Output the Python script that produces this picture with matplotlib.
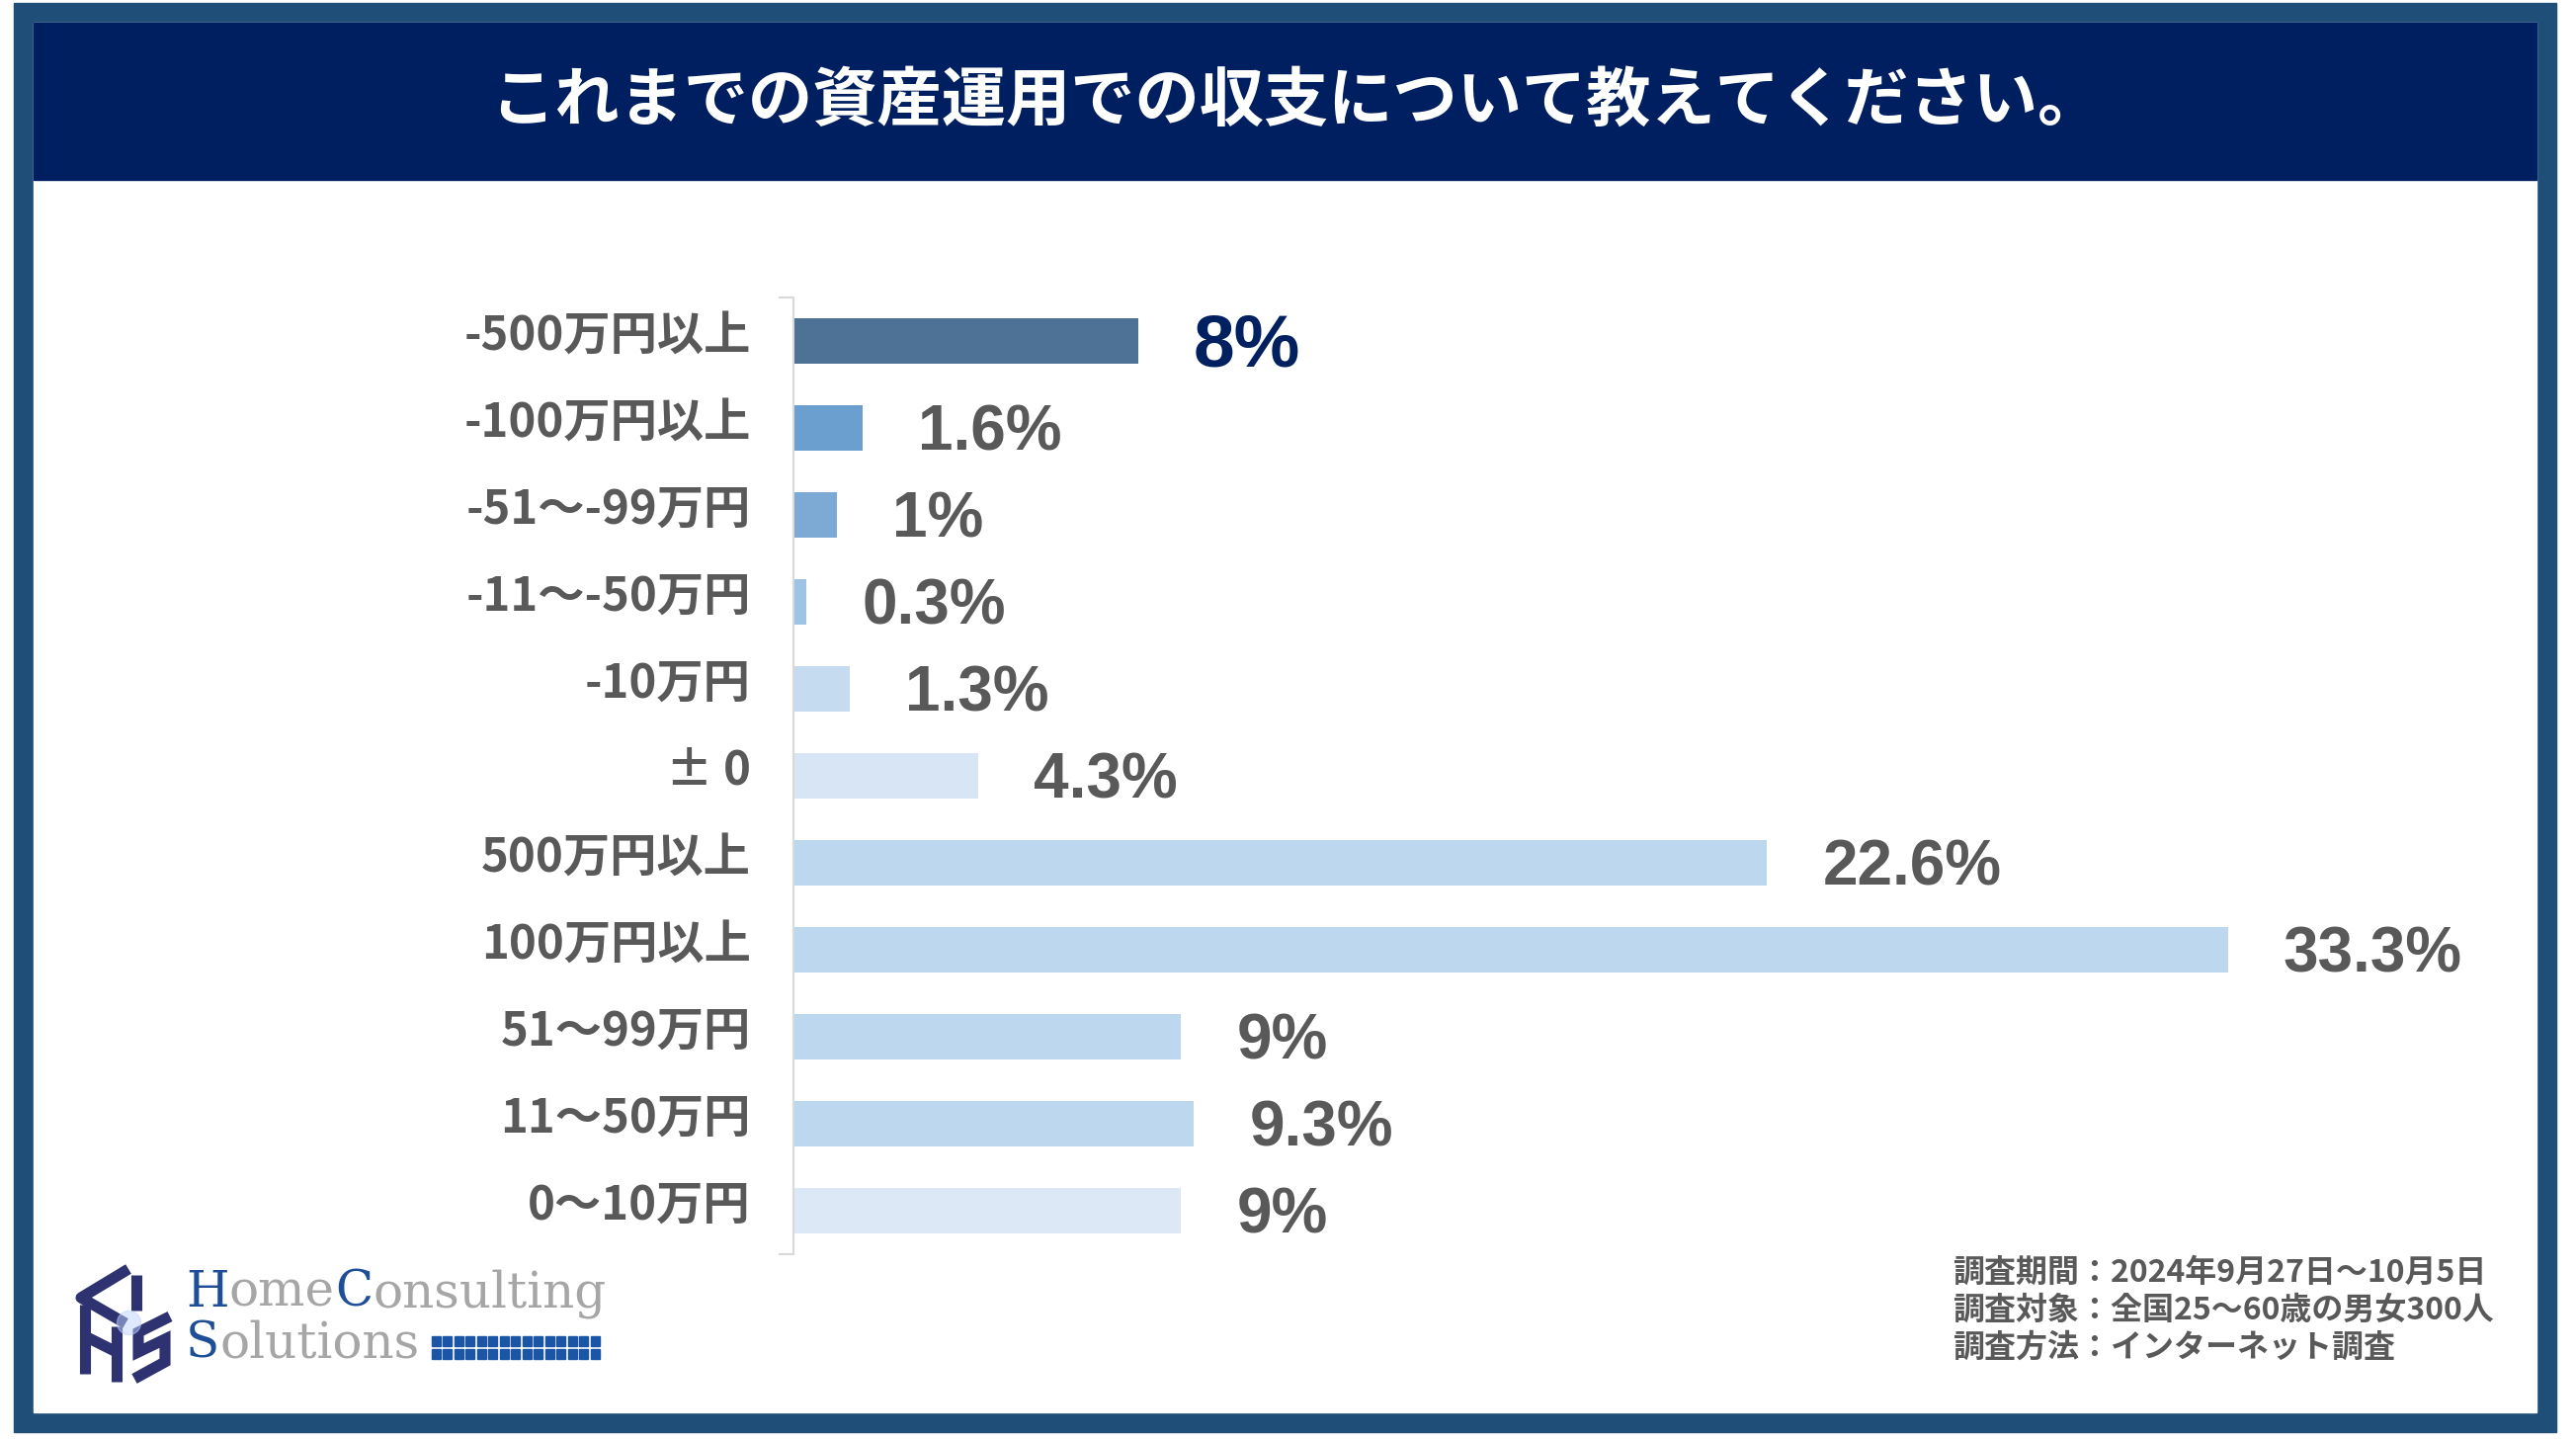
import matplotlib
matplotlib.use('Agg')
import matplotlib.pyplot as plt
import matplotlib.transforms as mtransforms
from matplotlib.patches import Rectangle

# data
categories = ['-500万円以上', '-100万円以上', '-51～-99万円', '-11～-50万円', '-10万円', '± 0',
              '500万円以上', '100万円以上', '51～99万円', '11～50万円', '0～10万円']
values = [8, 1.6, 1, 0.3, 1.3, 4.3, 22.6, 33.3, 9, 9.3, 9]
bar_colors = ['#4E7196', '#6A9FCF', '#7DAAD4', '#9DC3E6', '#C5DBF0', '#D7E5F4',
              '#BDD7EE', '#BDD7EE', '#BDD7EE', '#BDD7EE', '#DCE8F5']
title = 'これまでの資産運用での収支について教えてください。'
notes = ['調査期間：2024年9月27日～10月5日',
         '調査対象：全国25～60歳の男女300人',
         '調査方法：インターネット調査']

W, H = 2607, 1457
fig = plt.figure(figsize=(W / 100, H / 100), dpi=100)
fig.patch.set_facecolor('white')

# background: frame, title bar, logo (pixel coords)
bg = fig.add_axes([0, 0, 1, 1], zorder=0)
bg.set_xlim(0, W)
bg.set_ylim(H, 0)
bg.axis('off')
bg.add_patch(Rectangle((14, 3), 2573, 1446, color='#1F4E79'))
bg.add_patch(Rectangle((34, 23), 2533, 1406, color='white'))
bg.add_patch(Rectangle((34, 23), 2533, 159, color='#001F60'))
bg.text(1312, 102, title, color='white', fontsize=47, fontweight='bold',
        family=['Noto Sans CJK JP', 'DejaVu Sans'], ha='center', va='center')

# logo icon (rough)
navy = '#2E3270'
lw = 8
bg.plot([130, 82, 127], [1284, 1313, 1339], color=navy, lw=lw, solid_capstyle='butt')
bg.plot([138, 138], [1290, 1326], color=navy, lw=lw, solid_capstyle='butt')
bg.plot([86, 86], [1320, 1390], color=navy, lw=lw, solid_capstyle='butt')
bg.plot([118, 118], [1342, 1398], color=navy, lw=lw, solid_capstyle='butt')
bg.plot([86, 118], [1352, 1368], color=navy, lw=lw, solid_capstyle='butt')
bg.plot([172, 140, 140, 167, 167, 136], [1332, 1348, 1368, 1355, 1378, 1395],
        color=navy, lw=lw, solid_capstyle='butt', solid_joinstyle='miter')
bg.scatter([130], [1338], s=300, color='#BFD4FF', alpha=0.5, zorder=3)

blue = '#1E4F96'
gray = '#A6A6A6'
fig.canvas.draw()
renderer = fig.canvas.get_renderer()


def draw_pieces(x, y, pieces, size):
    for s, c in pieces:
        t = bg.text(x, y, s, color=c, fontsize=size, family='DejaVu Serif', ha='left', va='baseline')
        x += t.get_window_extent(renderer).width
    return x


draw_pieces(188, 1322, [('H', blue), ('ome', gray), ('C', blue), ('onsulting', gray)], 36)
end = draw_pieces(188, 1374, [('S', blue), ('olutions', gray)], 36)
for r in range(2):
    for c in range(15):
        bg.add_patch(Rectangle((end + 12 + c * 11.5, 1352 + r * 13), 9, 10, color='#1B56A6'))

for i, line in enumerate(notes):
    bg.text(1976, 1288 + i * 38, line, color='#595959', fontsize=23, fontweight='bold',
            family=['Noto Sans CJK JP', 'DejaVu Sans'], ha='left', va='center')

# chart
ax = fig.add_axes([803 / W, 1 - 1269 / H, 1744 / W, 968 / H], zorder=2)
ax.patch.set_alpha(0)
pos = list(range(len(categories)))
ax.barh(pos, values, height=0.534, color=bar_colors)
ax.set_xlim(0, 40)
ax.set_ylim(len(categories) - 0.5, -0.5)

ax.set_xticks([])
ax.set_yticks(pos)
ax.set_yticklabels(categories, fontsize=34, color='#595959', fontweight='bold',
                   family=['Noto Sans CJK JP', 'DejaVu Sans'])
ax.tick_params(axis='y', which='major', length=0, pad=31)
ax.set_yticks([-0.5, len(categories) - 0.5], minor=True)
ax.tick_params(axis='y', which='minor', length=11, width=1.5, color='#D9D9D9')
shift = mtransforms.ScaledTranslation(0, 0.10, fig.dpi_scale_trans)
for lab in ax.get_yticklabels():
    lab.set_transform(lab.get_transform() + shift)

for s in ['top', 'right', 'bottom']:
    ax.spines[s].set_visible(False)
ax.spines['left'].set_color('#D9D9D9')
ax.spines['left'].set_linewidth(1.5)

off = mtransforms.offset_copy(ax.transData, fig=fig, x=56, y=-6, units='dots')
for i, v in enumerate(values):
    if i == 0:
        ax.text(v, i, f'{v:g}%', transform=off, fontsize=54, fontweight='bold', color='#002060',
                family=['Liberation Sans', 'DejaVu Sans'], va='center', ha='left')
    else:
        ax.text(v, i, f'{v:g}%', transform=off, fontsize=46, fontweight='bold', color='#595959',
                family=['Liberation Sans', 'DejaVu Sans'], va='center', ha='left')

fig.savefig('out.png', dpi=100)
